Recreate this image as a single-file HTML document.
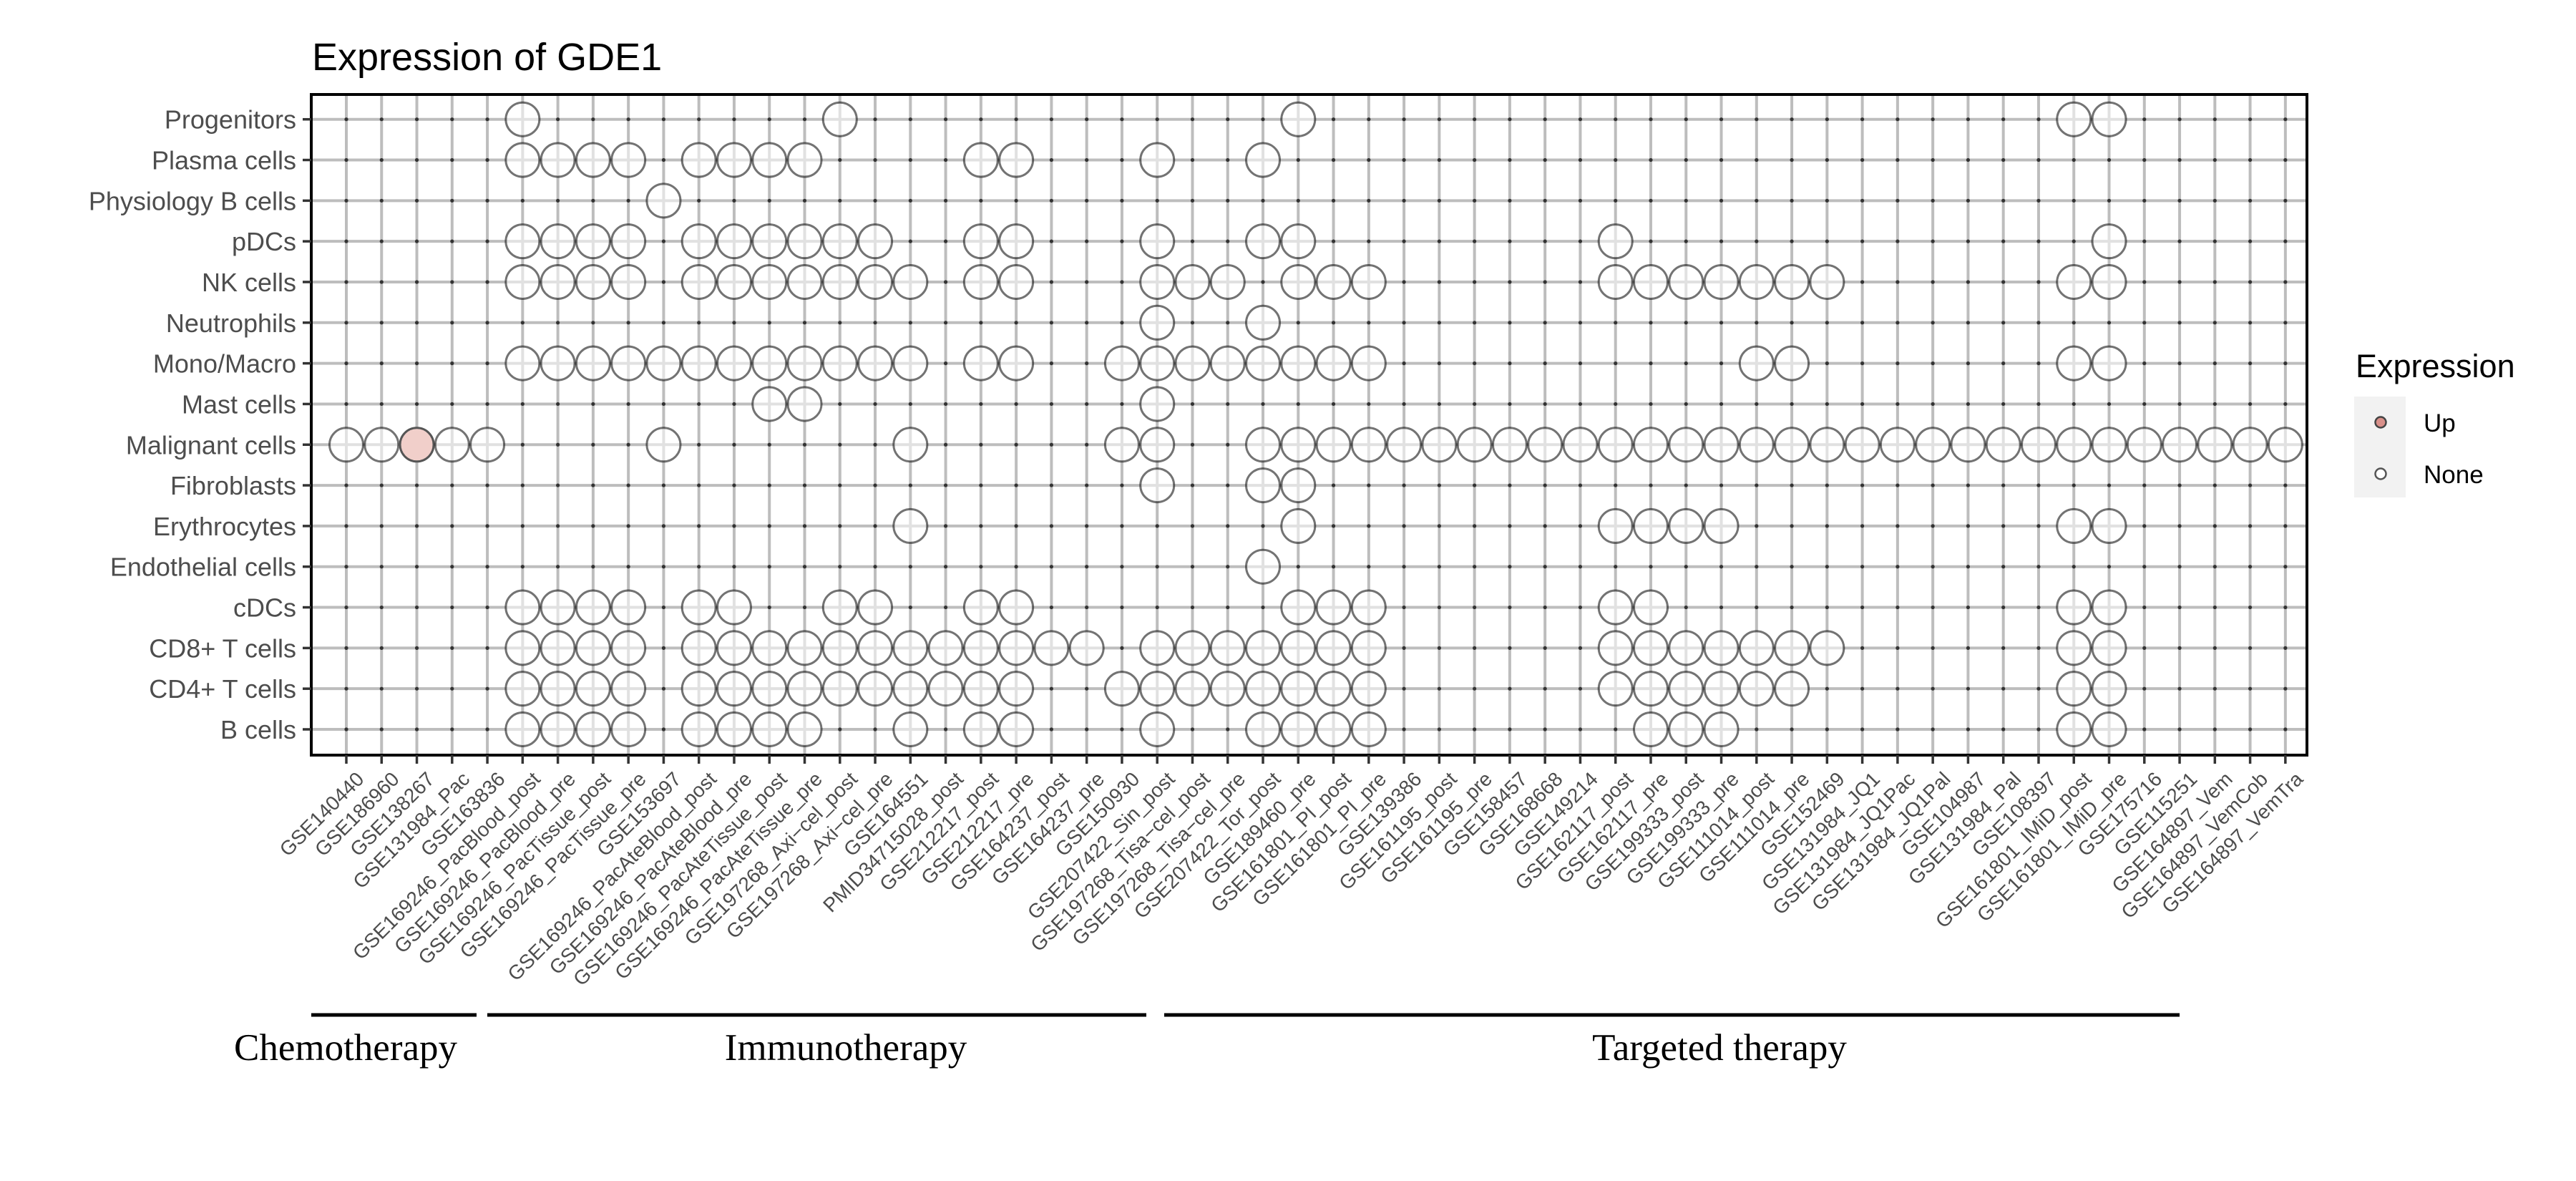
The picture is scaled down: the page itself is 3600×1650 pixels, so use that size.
<!DOCTYPE html>
<html><head><meta charset="utf-8"><style>
html,body{margin:0;padding:0;background:#fff;}
svg{display:block;}
.yl{font-family:"Liberation Sans",sans-serif;font-size:36px;fill:#4d4d4d;text-anchor:end;}
.xl{font-family:"Liberation Sans",sans-serif;font-size:28px;fill:#4d4d4d;text-anchor:end;}
.grp{font-family:"Liberation Serif",serif;font-size:53px;fill:#000;text-anchor:middle;}
</style></head><body>
<svg width="3600" height="1650" viewBox="0 0 3600 1650" xmlns="http://www.w3.org/2000/svg">
<rect width="3600" height="1650" fill="#fff"/>
<text x="436" y="98" font-family="Liberation Sans, sans-serif" font-size="54" fill="#000">Expression of GDE1</text>
<g id="grid"></g>
<g id="pts"></g>
<rect x="435" y="132" width="2789" height="923" fill="none" stroke="#000" stroke-width="4"/>
<g id="ticks"></g>
<g>
<text class="yl" x="414" y="166.7" dy="0.36em">Progenitors</text>
<text class="yl" x="414" y="223.5" dy="0.36em">Plasma cells</text>
<text class="yl" x="414" y="280.3" dy="0.36em">Physiology B cells</text>
<text class="yl" x="414" y="337.2" dy="0.36em">pDCs</text>
<text class="yl" x="414" y="394.0" dy="0.36em">NK cells</text>
<text class="yl" x="414" y="450.8" dy="0.36em">Neutrophils</text>
<text class="yl" x="414" y="507.6" dy="0.36em">Mono/Macro</text>
<text class="yl" x="414" y="564.4" dy="0.36em">Mast cells</text>
<text class="yl" x="414" y="621.3" dy="0.36em">Malignant cells</text>
<text class="yl" x="414" y="678.1" dy="0.36em">Fibroblasts</text>
<text class="yl" x="414" y="734.9" dy="0.36em">Erythrocytes</text>
<text class="yl" x="414" y="791.7" dy="0.36em">Endothelial cells</text>
<text class="yl" x="414" y="848.5" dy="0.36em">cDCs</text>
<text class="yl" x="414" y="905.4" dy="0.36em">CD8+ T cells</text>
<text class="yl" x="414" y="962.2" dy="0.36em">CD4+ T cells</text>
<text class="yl" x="414" y="1019.0" dy="0.36em">B cells</text>
</g>
<g>
<text class="xl" transform="translate(496.0,1076) rotate(-45)" dy="0.72em">GSE140440</text>
<text class="xl" transform="translate(545.3,1076) rotate(-45)" dy="0.72em">GSE186960</text>
<text class="xl" transform="translate(594.5,1076) rotate(-45)" dy="0.72em">GSE138267</text>
<text class="xl" transform="translate(643.8,1076) rotate(-45)" dy="0.72em">GSE131984_Pac</text>
<text class="xl" transform="translate(693.1,1076) rotate(-45)" dy="0.72em">GSE163836</text>
<text class="xl" transform="translate(742.4,1076) rotate(-45)" dy="0.72em">GSE169246_PacBlood_post</text>
<text class="xl" transform="translate(791.6,1076) rotate(-45)" dy="0.72em">GSE169246_PacBlood_pre</text>
<text class="xl" transform="translate(840.9,1076) rotate(-45)" dy="0.72em">GSE169246_PacTissue_post</text>
<text class="xl" transform="translate(890.2,1076) rotate(-45)" dy="0.72em">GSE169246_PacTissue_pre</text>
<text class="xl" transform="translate(939.4,1076) rotate(-45)" dy="0.72em">GSE153697</text>
<text class="xl" transform="translate(988.7,1076) rotate(-45)" dy="0.72em">GSE169246_PacAteBlood_post</text>
<text class="xl" transform="translate(1038.0,1076) rotate(-45)" dy="0.72em">GSE169246_PacAteBlood_pre</text>
<text class="xl" transform="translate(1087.2,1076) rotate(-45)" dy="0.72em">GSE169246_PacAteTissue_post</text>
<text class="xl" transform="translate(1136.5,1076) rotate(-45)" dy="0.72em">GSE169246_PacAteTissue_pre</text>
<text class="xl" transform="translate(1185.8,1076) rotate(-45)" dy="0.72em">GSE197268_Axi−cel_post</text>
<text class="xl" transform="translate(1235.1,1076) rotate(-45)" dy="0.72em">GSE197268_Axi−cel_pre</text>
<text class="xl" transform="translate(1284.3,1076) rotate(-45)" dy="0.72em">GSE164551</text>
<text class="xl" transform="translate(1333.6,1076) rotate(-45)" dy="0.72em">PMID34715028_post</text>
<text class="xl" transform="translate(1382.9,1076) rotate(-45)" dy="0.72em">GSE212217_post</text>
<text class="xl" transform="translate(1432.1,1076) rotate(-45)" dy="0.72em">GSE212217_pre</text>
<text class="xl" transform="translate(1481.4,1076) rotate(-45)" dy="0.72em">GSE164237_post</text>
<text class="xl" transform="translate(1530.7,1076) rotate(-45)" dy="0.72em">GSE164237_pre</text>
<text class="xl" transform="translate(1580.0,1076) rotate(-45)" dy="0.72em">GSE150930</text>
<text class="xl" transform="translate(1629.2,1076) rotate(-45)" dy="0.72em">GSE207422_Sin_post</text>
<text class="xl" transform="translate(1678.5,1076) rotate(-45)" dy="0.72em">GSE197268_Tisa−cel_post</text>
<text class="xl" transform="translate(1727.8,1076) rotate(-45)" dy="0.72em">GSE197268_Tisa−cel_pre</text>
<text class="xl" transform="translate(1777.0,1076) rotate(-45)" dy="0.72em">GSE207422_Tor_post</text>
<text class="xl" transform="translate(1826.3,1076) rotate(-45)" dy="0.72em">GSE189460_pre</text>
<text class="xl" transform="translate(1875.6,1076) rotate(-45)" dy="0.72em">GSE161801_PI_post</text>
<text class="xl" transform="translate(1924.8,1076) rotate(-45)" dy="0.72em">GSE161801_PI_pre</text>
<text class="xl" transform="translate(1974.1,1076) rotate(-45)" dy="0.72em">GSE139386</text>
<text class="xl" transform="translate(2023.4,1076) rotate(-45)" dy="0.72em">GSE161195_post</text>
<text class="xl" transform="translate(2072.6,1076) rotate(-45)" dy="0.72em">GSE161195_pre</text>
<text class="xl" transform="translate(2121.9,1076) rotate(-45)" dy="0.72em">GSE158457</text>
<text class="xl" transform="translate(2171.2,1076) rotate(-45)" dy="0.72em">GSE168668</text>
<text class="xl" transform="translate(2220.5,1076) rotate(-45)" dy="0.72em">GSE149214</text>
<text class="xl" transform="translate(2269.7,1076) rotate(-45)" dy="0.72em">GSE162117_post</text>
<text class="xl" transform="translate(2319.0,1076) rotate(-45)" dy="0.72em">GSE162117_pre</text>
<text class="xl" transform="translate(2368.3,1076) rotate(-45)" dy="0.72em">GSE199333_post</text>
<text class="xl" transform="translate(2417.5,1076) rotate(-45)" dy="0.72em">GSE199333_pre</text>
<text class="xl" transform="translate(2466.8,1076) rotate(-45)" dy="0.72em">GSE111014_post</text>
<text class="xl" transform="translate(2516.1,1076) rotate(-45)" dy="0.72em">GSE111014_pre</text>
<text class="xl" transform="translate(2565.3,1076) rotate(-45)" dy="0.72em">GSE152469</text>
<text class="xl" transform="translate(2614.6,1076) rotate(-45)" dy="0.72em">GSE131984_JQ1</text>
<text class="xl" transform="translate(2663.9,1076) rotate(-45)" dy="0.72em">GSE131984_JQ1Pac</text>
<text class="xl" transform="translate(2713.2,1076) rotate(-45)" dy="0.72em">GSE131984_JQ1Pal</text>
<text class="xl" transform="translate(2762.4,1076) rotate(-45)" dy="0.72em">GSE104987</text>
<text class="xl" transform="translate(2811.7,1076) rotate(-45)" dy="0.72em">GSE131984_Pal</text>
<text class="xl" transform="translate(2861.0,1076) rotate(-45)" dy="0.72em">GSE108397</text>
<text class="xl" transform="translate(2910.2,1076) rotate(-45)" dy="0.72em">GSE161801_IMiD_post</text>
<text class="xl" transform="translate(2959.5,1076) rotate(-45)" dy="0.72em">GSE161801_IMiD_pre</text>
<text class="xl" transform="translate(3008.8,1076) rotate(-45)" dy="0.72em">GSE175716</text>
<text class="xl" transform="translate(3058.0,1076) rotate(-45)" dy="0.72em">GSE115251</text>
<text class="xl" transform="translate(3107.3,1076) rotate(-45)" dy="0.72em">GSE164897_Vem</text>
<text class="xl" transform="translate(3156.6,1076) rotate(-45)" dy="0.72em">GSE164897_VemCob</text>
<text class="xl" transform="translate(3205.9,1076) rotate(-45)" dy="0.72em">GSE164897_VemTra</text>
</g>
<g stroke="#000" stroke-width="5">
<line x1="435" y1="1418" x2="666" y2="1418"/>
<line x1="681" y1="1418" x2="1602" y2="1418"/>
<line x1="1627" y1="1418" x2="3046" y2="1418"/>
</g>
<text class="grp" x="483" y="1481">Chemotherapy</text>
<text class="grp" x="1182" y="1481">Immunotherapy</text>
<text class="grp" x="2403" y="1481">Targeted therapy</text>
<text x="3292" y="527" font-family="Liberation Sans, sans-serif" font-size="45" fill="#000">Expression</text>
<rect x="3290" y="554" width="72" height="141" fill="#f2f2f2"/>
<circle cx="3327" cy="590" r="7.5" fill="#d9908a" stroke="#444" stroke-width="2.5"/>
<circle cx="3327" cy="662" r="7.5" fill="#fff" stroke="#555" stroke-width="2.5"/>
<text x="3387" y="603" font-family="Liberation Sans, sans-serif" font-size="35" fill="#000">Up</text>
<text x="3387" y="675" font-family="Liberation Sans, sans-serif" font-size="35" fill="#000">None</text>
</svg>
<script>
(function(){
var NS="http://www.w3.org/2000/svg";
function cx(i){return 484+49.27*i;}
function ry(j){return 166.7+56.82*j;}
var grid=document.getElementById('grid'),pts=document.getElementById('pts'),tk=document.getElementById('ticks');
function el(p,t,a){var e=document.createElementNS(NS,t);for(var k in a)e.setAttribute(k,a[k]);p.appendChild(e);return e;}
for(var j=0;j<16;j++){el(grid,'line',{x1:435,x2:3224,y1:ry(j),y2:ry(j),stroke:'#bdbdbd','stroke-width':4});
 el(tk,'line',{x1:423,x2:435,y1:ry(j),y2:ry(j),stroke:'#333','stroke-width':3.5});}
for(var i=0;i<56;i++){el(grid,'line',{x1:cx(i),x2:cx(i),y1:132,y2:1055,stroke:'#bdbdbd','stroke-width':4});
 el(tk,'line',{x1:cx(i),x2:cx(i),y1:1055,y2:1067,stroke:'#333','stroke-width':3.5});}
function range(a,b){var r=[];for(var k=a;k<=b;k++)r.push(k);return r;}
var rows=[
[5,14,27,49,50],
[5,6,7,8,10,11,12,13,18,19,23,26],
[9],
[5,6,7,8,10,11,12,13,14,15,18,19,23,26,27,36,50],
[5,6,7,8,10,11,12,13,14,15,16,18,19,23,24,25,27,28,29,36,37,38,39,40,41,42,49,50],
[23,26],
[5,6,7,8,9,10,11,12,13,14,15,16,18,19,22,23,24,25,26,27,28,29,40,41,49,50],
[12,13,23],
[0,1,2,3,4,9,16,22,23].concat(range(26,55)),
[23,26,27],
[16,27,36,37,38,39,49,50],
[26],
[5,6,7,8,10,11,14,15,18,19,27,28,29,36,37,49,50],
[5,6,7,8,10,11,12,13,14,15,16,17,18,19,20,21,23,24,25,26,27,28,29,36,37,38,39,40,41,42,49,50],
[5,6,7,8,10,11,12,13,14,15,16,17,18,19,22,23,24,25,26,27,28,29,36,37,38,39,40,41,49,50],
[5,6,7,8,10,11,12,13,16,18,19,23,26,27,28,29,37,38,39,49,50]];
for(var j=0;j<16;j++){var s={};rows[j].forEach(function(i){s[i]=1;});
 for(var i=0;i<56;i++){
  if(s[i]){
   if(j==8&&i==2) el(pts,'circle',{cx:cx(i),cy:ry(j),r:23.5,fill:'#f1cfca',stroke:'#555','stroke-width':3});
   else el(pts,'circle',{cx:cx(i),cy:ry(j),r:23.5,fill:'rgba(255,255,255,0.55)',stroke:'rgba(0,0,0,0.55)','stroke-width':3});
  } else el(pts,'circle',{cx:cx(i),cy:ry(j),r:2.6,fill:'#333'});
 }}
})();
</script>
</body></html>
